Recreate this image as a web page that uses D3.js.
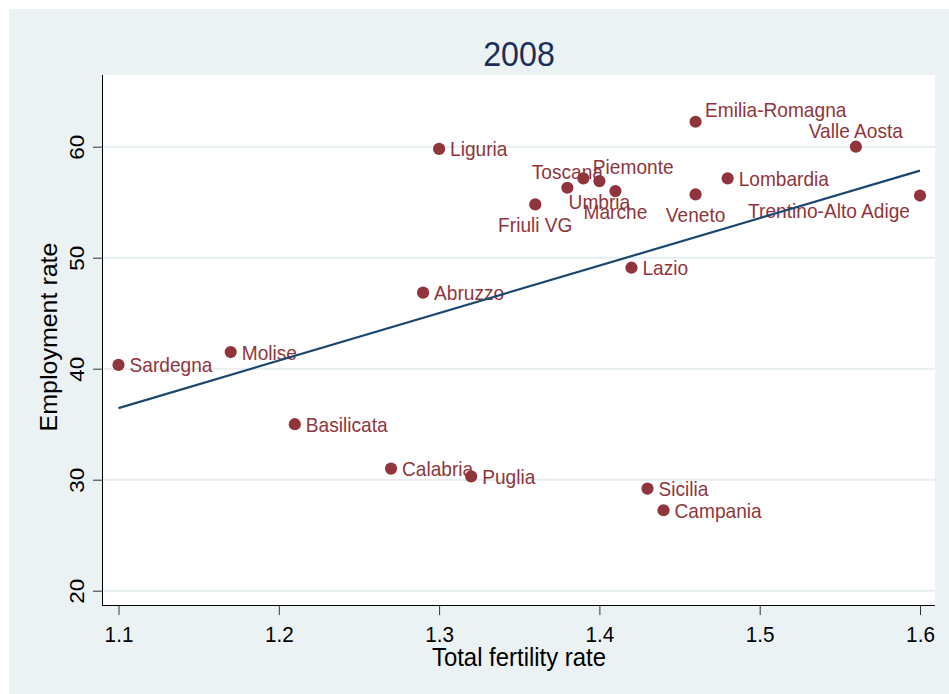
<!DOCTYPE html>
<html>
<head>
<meta charset="utf-8">
<script src="https://cdn.jsdelivr.net/npm/d3@7"></script>
<style>
html,body{margin:0;padding:0;background:#fff;}
svg{display:block;font-family:"Liberation Sans",Arial,sans-serif;}
</style>
</head>
<body>
<svg id="chart" width="949" height="694"></svg>
<script>
// ---- data ----
const regions = ["Sardegna","Molise","Basilicata","Calabria","Abruzzo","Liguria","Puglia",
  "Friuli VG","Toscana","Piemonte","Umbria","Marche","Lazio","Sicilia","Campania",
  "Veneto","Emilia-Romagna","Lombardia","Valle Aosta","Trentino-Alto Adige"];
const fertility = [1.10,1.17,1.21,1.27,1.29,1.30,1.32,1.36,1.38,1.39,1.40,1.41,1.42,1.43,1.44,1.46,1.46,1.48,1.56,1.60];
const employment = [40.35,41.5,35.0,31.0,46.85,59.8,30.3,54.8,56.3,57.15,56.9,56.0,49.1,29.2,27.25,55.7,62.25,57.15,60.0,55.6];
const xTicks = [1.1,1.2,1.3,1.4,1.5,1.6];
const yTicks = [20,30,40,50,60];
const titleText = "2008";
const xTitle = "Total fertility rate";
const yTitle = "Employment rate";

// ---- style: marker label clock positions (Stata mlabvposition) ----
const labelClock = {"Friuli VG":6,"Toscana":12,"Piemonte":2,"Umbria":6,"Marche":6,
  "Veneto":6,"Emilia-Romagna":2,"Valle Aosta":12,"Trentino-Alto Adige":7};
const clockOffset = {
  3:{anchor:"start",dx:11,dy:7.5},
  2:{anchor:"start",dx:9.5,dy:-4.5},
  12:{anchor:"middle",dx:0,dy:-9},
  6:{anchor:"middle",dx:0,dy:27.5},
  7:{anchor:"end",dx:-10,dy:22.5}
};
const SX = 0.92; // horizontal text compression of the original rendering
const maroon = "#90353b", navy = "#1a476f", bg = "#eaf2f3", grid = "#e6eef1", dknavy = "#1c2d59";

const svg = d3.select("#chart");
const W = 949, H = 694;
const plot = {l:103, r:935, t:75, b:605};

svg.append("rect").attr("width",W).attr("height",H).attr("fill","#fff");
svg.append("rect").attr("x",9).attr("y",9).attr("width",W-9).attr("height",H-9).attr("fill",bg);
svg.append("rect").attr("x",plot.l).attr("y",plot.t).attr("width",plot.r-plot.l).attr("height",plot.b-plot.t).attr("fill","#fff");

const x = d3.scaleLinear().domain([1.1,1.6]).range([118.5,920]);
const y = d3.scaleLinear().domain([20,60]).range([590.7,146.7]);

// gridlines
svg.append("g").selectAll("line").data(yTicks).join("line")
  .attr("x1",plot.l).attr("x2",plot.r)
  .attr("y1",d=>y(d)).attr("y2",d=>y(d))
  .attr("stroke",grid).attr("stroke-width",2);

// x axis
const xAxis = svg.append("g").attr("transform",`translate(0,${plot.b})`)
  .call(d3.axisBottom(x).tickValues(xTicks).tickSize(10).tickFormat(d3.format(".1f")));
xAxis.select(".domain").remove();
xAxis.selectAll(".tick line").attr("stroke","#333").attr("stroke-width",1);
xAxis.selectAll(".tick text")
  .attr("y",null).attr("dy",null)
  .attr("transform",`translate(0,37) scale(${SX},1)`)
  .attr("font-size",22.5).attr("fill","#000").attr("font-family","Liberation Sans, Arial, sans-serif");
svg.append("line").attr("x1",plot.l).attr("x2",plot.r).attr("y1",plot.b+0.5).attr("y2",plot.b+0.5)
  .attr("stroke","#000").attr("stroke-width",1);

// y axis
const yAxis = svg.append("g").attr("transform",`translate(${plot.l},0)`)
  .call(d3.axisLeft(y).tickValues(yTicks).tickSize(10).tickFormat(d3.format("d")));
yAxis.select(".domain").remove();
yAxis.selectAll(".tick line").attr("stroke","#333").attr("stroke-width",1);
yAxis.selectAll(".tick text")
  .attr("x",null).attr("dy",null).attr("y",null)
  .attr("text-anchor","middle")
  .attr("transform",`translate(-19,0) scale(${SX},1) rotate(-90)`)
  .attr("font-size",22.5).attr("fill","#000").attr("font-family","Liberation Sans, Arial, sans-serif");
svg.append("line").attr("x1",plot.l-0.5).attr("x2",plot.l-0.5).attr("y1",plot.t).attr("y2",plot.b+1)
  .attr("stroke","#000").attr("stroke-width",1);

// titles
svg.append("text").attr("transform",`translate(${(plot.l+plot.r)/2},66) scale(${SX},1)`)
  .attr("text-anchor","middle").attr("font-size",35).attr("fill",dknavy).text(titleText);
svg.append("text").attr("transform",`translate(${(plot.l+plot.r)/2},666) scale(${SX},1)`)
  .attr("text-anchor","middle").attr("font-size",26).attr("fill","#000").text(xTitle);
svg.append("text").attr("transform",`translate(57,${(plot.t+plot.b)/2 - 3}) scale(${SX},1) rotate(-90)`)
  .attr("text-anchor","middle").attr("font-size",25).attr("fill","#000").text(yTitle);

// data points
const pts = regions.map((r,i)=>({name:r, fx:fertility[i], ey:employment[i]}));
svg.append("g").selectAll("circle").data(pts).join("circle")
  .attr("cx",d=>x(d.fx)).attr("cy",d=>y(d.ey)).attr("r",6.1).attr("fill",maroon);
svg.append("g").selectAll("text").data(pts).join("text")
  .attr("transform",d=>{const o=clockOffset[labelClock[d.name]||3];
    return `translate(${x(d.fx)+o.dx},${y(d.ey)+o.dy}) scale(${SX},1)`;})
  .attr("text-anchor",d=>clockOffset[labelClock[d.name]||3].anchor)
  .attr("font-size",20.8).attr("fill",maroon).text(d=>d.name);

// linear fit (OLS from the data)
const mx = d3.mean(fertility), my = d3.mean(employment);
const sxy = d3.sum(fertility.map((v,i)=>(v-mx)*(employment[i]-my)));
const sxx = d3.sum(fertility.map(v=>(v-mx)*(v-mx)));
const slope = sxy/sxx, icpt = my - slope*mx;
const xr = d3.extent(fertility);
svg.append("path")
  .datum(xr.map(v=>[v, icpt+slope*v]))
  .attr("d", d3.line().x(d=>x(d[0])).y(d=>y(d[1])))
  .attr("fill","none").attr("stroke",navy).attr("stroke-width",2.2);
</script>
</body>
</html>
